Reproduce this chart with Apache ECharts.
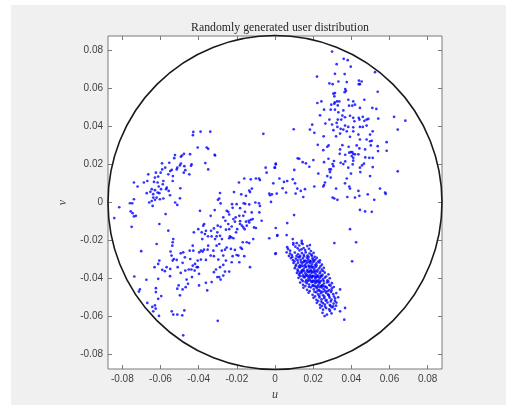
<!DOCTYPE html>
<html>
<head>
<meta charset="utf-8">
<script src="https://cdn.jsdelivr.net/npm/echarts@6/dist/echarts.min.js"></script>
<style>
    html, body { margin: 0; padding: 0; background: #fff; }
    #frame { position: absolute; left: 11px; top: 5px; width: 495px; height: 400px; background: #f0f0f0; }
    #chart { position: absolute; left: 0; top: 0; width: 516px; height: 414px; }
</style>
</head>
<body>
<div id="frame"></div>
<div id="chart"></div>
<script>
// axis limits and circle radius
var axisLimit = 0.0875;
var circleRadius = 0.0875;
var tickValues = [-0.08, -0.06, -0.04, -0.02, 0, 0.02, 0.04, 0.06, 0.08];

// user groups (u, v)
var usersWest = [
    [-0.0428,0.0371],[-0.0390,0.0372],[-0.0339,0.0372],[-0.0430,0.0354],[-0.0405,0.0289],[-0.0358,0.0289],[-0.0350,0.0282],[-0.0316,0.0251],
    [-0.0445,0.0254],[-0.0477,0.0256],[-0.0487,0.0247],[-0.0493,0.0241],[-0.0524,0.0249],[-0.0528,0.0233],[-0.0554,0.0209],[-0.0592,0.0206],
    [-0.0575,0.0183],[-0.0591,0.0174],[-0.0493,0.0205],[-0.0498,0.0195],[-0.0512,0.0183],[-0.0475,0.0191],[-0.0437,0.0200],[-0.0440,0.0193],
    [-0.0470,0.0170],[-0.0478,0.0157],[-0.0515,0.0174],[-0.0541,0.0171],[-0.0549,0.0165],[-0.0559,0.0148],[-0.0535,0.0139],[-0.0449,0.0148],
    [-0.0365,0.0207],[-0.0350,0.0174],[-0.0599,0.0157],[-0.0624,0.0157],[-0.0612,0.0136],[-0.0629,0.0131],[-0.0664,0.0148],[-0.0669,0.0113],
    [-0.0634,0.0108],[-0.0615,0.0105],[-0.0585,0.0113],[-0.0588,0.0096],[-0.0609,0.0084],[-0.0567,0.0078],[-0.0536,0.0113],[-0.0496,0.0075],
    [-0.0687,0.0105],[-0.0739,0.0105],[-0.0720,0.0084],[-0.0646,0.0070],[-0.0629,0.0065],[-0.0653,0.0056],[-0.0672,0.0049],[-0.0638,0.0044],
    [-0.0615,0.0052],[-0.0597,0.0070],[-0.0606,0.0049],[-0.0620,0.0026],[-0.0638,0.0026],[-0.0646,0.0008],[-0.0629,0.0014],[-0.0603,0.0017],
    [-0.0585,0.0021],[-0.0571,0.0070],[-0.0557,0.0061],[-0.0550,0.0038],[-0.0739,0.0017],[-0.0748,-0.0004],[-0.0760,-0.0004],[-0.0659,0.0000],
    [-0.0641,-0.0018],[-0.0523,0.0000],[-0.0512,-0.0013],[-0.0498,0.0022],[-0.0061,0.0361]
];

var usersMiddle = [
    [-0.0842,-0.0082],[-0.0816,-0.0025],[-0.0756,-0.0047],[-0.0746,-0.0056],[-0.0739,-0.0073],[-0.0729,-0.0070],[-0.0751,-0.0128],[-0.0606,-0.0113],
    [-0.0573,-0.0061],[-0.0701,-0.0256],[-0.0737,-0.0389],[-0.0674,-0.0406],[-0.0708,-0.0457],[-0.0713,-0.0468],[-0.0669,-0.0528],[-0.0643,-0.0549],
    [-0.0629,-0.0541],[-0.0625,-0.0558],[-0.0638,-0.0572],[-0.0608,-0.0596],[-0.0624,-0.0450],[-0.0624,-0.0471],[-0.0596,-0.0492],[-0.0612,-0.0506],
    [-0.0541,-0.0572],[-0.0533,-0.0589],[-0.0512,-0.0589],[-0.0486,-0.0593],[-0.0475,-0.0567],[-0.0481,-0.0698],[-0.0300,-0.0622],[-0.0620,-0.0218],
    [-0.0606,-0.0305],[-0.0559,-0.0148],
    [-0.0631,-0.0340],[-0.0612,-0.0323],[-0.0612,-0.0401],[-0.0591,-0.0354],[-0.0577,-0.0361],[-0.0568,-0.0340],[-0.0549,-0.0349],[-0.0550,-0.0387],
    [-0.0536,-0.0209],[-0.0533,-0.0192],[-0.0538,-0.0227],[-0.0547,-0.0258],[-0.0542,-0.0279],[-0.0530,-0.0297],[-0.0536,-0.0305],[-0.0515,-0.0302],
    [-0.0510,-0.0340],[-0.0494,-0.0267],[-0.0481,-0.0262],[-0.0472,-0.0288],[-0.0484,-0.0317],[-0.0494,-0.0370],[-0.0470,-0.0358],[-0.0463,-0.0405],
    [-0.0512,-0.0453],[-0.0505,-0.0436],[-0.0498,-0.0488],[-0.0484,-0.0457],[-0.0468,-0.0445],[-0.0456,-0.0427],[-0.0452,-0.0352],[-0.0444,-0.0297],
    [-0.0431,-0.0332],[-0.0438,-0.0352],[-0.0428,-0.0253],[-0.0421,-0.0358],[-0.0410,-0.0340],[-0.0404,-0.0340],[-0.0398,-0.0375],[-0.0398,-0.0436],
    [-0.0425,-0.0157],[-0.0402,-0.0140],[-0.0393,-0.0044],[-0.0384,-0.0157],[-0.0381,-0.0192],[-0.0376,-0.0122],[-0.0367,-0.0166],[-0.0362,-0.0149],
    [-0.0351,-0.0178],[-0.0388,-0.0253],[-0.0379,-0.0258],[-0.0372,-0.0248],[-0.0353,-0.0248],[-0.0350,-0.0227],[-0.0362,-0.0302],[-0.0388,-0.0300],
    [-0.0397,-0.0262],[-0.0431,-0.0227],[-0.0447,-0.0253],[-0.0419,-0.0323],[-0.0405,-0.0305],[-0.0435,-0.0392],[-0.0362,-0.0422],[-0.0355,-0.0462],
    [-0.0371,-0.0113],
    [-0.0314,0.0247],[-0.0049,0.0183],[0.0004,0.0200],[0.0000,0.0183],[-0.0044,0.0157],[0.0119,0.0232],
    [-0.0161,0.0126],[-0.0189,0.0105],[-0.0127,0.0122],[-0.0100,0.0126],[-0.0084,0.0126],[-0.0079,0.0118],[-0.0009,0.0101],[0.0023,0.0126],
    [0.0047,0.0108],[0.0064,0.0113],[0.0093,0.0122],[0.0105,0.0101],[0.0117,0.0073],[0.0058,0.0052],[0.0040,0.0075],[0.0009,0.0047],
    [-0.0016,0.0043],[-0.0026,0.0038],[-0.0030,0.0047],[-0.0021,0.0003],[-0.0121,0.0073],[-0.0135,0.0063],[-0.0131,0.0055],[-0.0177,0.0043],
    [-0.0152,0.0035],[-0.0215,0.0055],[-0.0288,0.0050],[-0.0292,0.0021],[-0.0299,0.0014],[-0.0285,-0.0005],[-0.0316,-0.0040],[-0.0337,-0.0070],
    [-0.0253,-0.0044],[-0.0245,-0.0049],[-0.0240,-0.0063],[-0.0222,-0.0028],[-0.0225,-0.0009],[-0.0201,-0.0009],[-0.0183,-0.0030],[-0.0164,-0.0004],
    [-0.0156,-0.0007],[-0.0135,-0.0010],[-0.0103,0.0000],[-0.0084,-0.0004],[-0.0079,-0.0018],[-0.0082,-0.0052],[-0.0122,-0.0052],[-0.0157,-0.0049],
    [-0.0166,-0.0070],[-0.0187,-0.0070],[-0.0206,-0.0078],[-0.0218,-0.0087],[-0.0210,-0.0101],[-0.0183,-0.0098],[-0.0152,-0.0101],[-0.0138,-0.0096],
    [-0.0127,-0.0091],[-0.0117,-0.0087],[-0.0135,-0.0105],[-0.0148,-0.0122],[-0.0173,-0.0122],[-0.0198,-0.0140],[-0.0227,-0.0126],[-0.0240,-0.0140],
    [-0.0257,-0.0143],[-0.0245,-0.0113],[-0.0260,-0.0096],[-0.0271,-0.0078],[-0.0285,-0.0128],[-0.0300,-0.0122],[-0.0320,-0.0136],[-0.0335,-0.0149],
    [-0.0332,-0.0178],[-0.0314,-0.0192],[-0.0306,-0.0178],[-0.0302,-0.0157],[-0.0288,-0.0175],[-0.0278,-0.0192],[-0.0292,-0.0218],[-0.0306,-0.0227],
    [-0.0323,-0.0253],[-0.0337,-0.0279],[-0.0320,-0.0282],[-0.0297,-0.0300],[-0.0271,-0.0279],[-0.0279,-0.0253],[-0.0262,-0.0248],[-0.0253,-0.0237],
    [-0.0236,-0.0178],[-0.0229,-0.0183],[-0.0218,-0.0188],[-0.0240,-0.0188],[-0.0204,-0.0157],[-0.0183,-0.0113],[-0.0166,-0.0131],[-0.0159,-0.0140],
    [-0.0110,-0.0131],[-0.0100,-0.0134],[-0.0070,-0.0096],[-0.0114,-0.0192],[-0.0169,-0.0209],[-0.0148,-0.0209],[-0.0135,-0.0213],[-0.0180,-0.0237],
    [-0.0173,-0.0244],[-0.0210,-0.0249],[-0.0231,-0.0244],[-0.0201,-0.0276],[-0.0222,-0.0282],[-0.0192,-0.0279],[-0.0161,-0.0282],[-0.0257,-0.0305],
    [-0.0271,-0.0328],[-0.0288,-0.0340],[-0.0309,-0.0352],[-0.0320,-0.0366],[-0.0292,-0.0392],[-0.0271,-0.0384],[-0.0262,-0.0363],[-0.0240,-0.0363],
    [-0.0227,-0.0314],[-0.0187,-0.0314],[-0.0131,-0.0340],[-0.0030,-0.0188],[0.0012,-0.0175],[0.0002,-0.0270],[-0.0332,-0.0418],[-0.0302,-0.0392],
    [-0.0285,-0.0405]
];

var usersEast = [
    [0.0299,0.0793],[0.0360,0.0755],[0.0381,0.0748],[0.0323,0.0727],[0.0397,0.0714],[0.0524,0.0685],[0.0220,0.0662],[0.0314,0.0676],
    [0.0365,0.0675],[0.0285,0.0626],[0.0302,0.0622],[0.0332,0.0636],[0.0376,0.0633],[0.0440,0.0641],[0.0454,0.0636],[0.0445,0.0622],
    [0.0439,0.0622],[0.0368,0.0596],[0.0372,0.0587],[0.0365,0.0580],[0.0306,0.0572],[0.0314,0.0575],[0.0311,0.0558],[0.0538,0.0582],
    [0.0325,0.0531],[0.0337,0.0531],[0.0384,0.0540],[0.0222,0.0523],[0.0243,0.0531],[0.0295,0.0514],[0.0313,0.0526],[0.0311,0.0519],
    [0.0329,0.0510],[0.0410,0.0531],[0.0419,0.0514],[0.0405,0.0509],[0.0388,0.0509],[0.0468,0.0540],[0.0445,0.0497],[0.0510,0.0497],
    [0.0531,0.0492],[0.0257,0.0488],[0.0292,0.0488],[0.0314,0.0488],[0.0332,0.0474],[0.0358,0.0484],[0.0353,0.0457],[0.0367,0.0448],
    [0.0236,0.0458],[0.0285,0.0436],[0.0329,0.0436],[0.0347,0.0436],[0.0323,0.0418],[0.0264,0.0415],[0.0195,0.0409],[0.0183,0.0383],
    [0.0206,0.0366],[0.0393,0.0456],[0.0410,0.0445],[0.0439,0.0445],[0.0460,0.0450],[0.0442,0.0436],[0.0468,0.0429],[0.0480,0.0436],
    [0.0489,0.0439],[0.0460,0.0397],[0.0445,0.0397],[0.0480,0.0404],[0.0416,0.0427],[0.0410,0.0395],[0.0384,0.0397],[0.0367,0.0404],
    [0.0358,0.0383],[0.0344,0.0387],[0.0341,0.0362],[0.0320,0.0348],[0.0306,0.0380],[0.0299,0.0410],[0.0255,0.0348],[0.0327,0.0397],
    [0.0541,0.0441],[0.0624,0.0450],[0.0683,0.0430],[0.0643,0.0383],[0.0512,0.0374],[0.0498,0.0357],[0.0437,0.0357],[0.0410,0.0374],
    [0.0393,0.0345],[0.0376,0.0374],[0.0098,0.0385],
    [0.0224,0.0303],[0.0274,0.0293],[0.0281,0.0300],[0.0253,0.0275],[0.0353,0.0301],[0.0341,0.0279],[0.0339,0.0256],[0.0386,0.0293],
    [0.0398,0.0265],[0.0389,0.0262],[0.0405,0.0265],[0.0410,0.0256],[0.0419,0.0253],[0.0368,0.0251],[0.0402,0.0244],[0.0410,0.0235],
    [0.0437,0.0253],[0.0442,0.0284],[0.0428,0.0300],[0.0445,0.0331],[0.0472,0.0279],[0.0502,0.0300],[0.0498,0.0322],[0.0538,0.0296],
    [0.0540,0.0270],[0.0585,0.0272],[0.0585,0.0317],[0.0480,0.0331],[0.0507,0.0324],[0.0494,0.0235],[0.0512,0.0235],[0.0473,0.0237],
    [0.0466,0.0204],[0.0456,0.0195],[0.0445,0.0183],[0.0447,0.0160],[0.0512,0.0186],[0.0498,0.0139],[0.0410,0.0220],[0.0407,0.0200],
    [0.0384,0.0183],[0.0398,0.0152],[0.0376,0.0126],[0.0367,0.0101],[0.0389,0.0084],[0.0393,0.0073],[0.0437,0.0061],[0.0442,0.0035],
    [0.0419,0.0026],[0.0379,0.0029],[0.0311,0.0021],[0.0327,0.0014],[0.0302,0.0026],[0.0285,0.0174],[0.0293,0.0174],[0.0288,0.0160],
    [0.0274,0.0139],[0.0262,0.0105],[0.0257,0.0092],[0.0201,0.0223],[0.0257,0.0212],[0.0280,0.0230],[0.0309,0.0218],[0.0302,0.0202],
    [0.0306,0.0191],[0.0358,0.0202],[0.0368,0.0216],[0.0344,0.0209],[0.0127,0.0230],[0.0145,0.0212],[0.0162,0.0206],[0.0180,0.0188],
    [0.0101,0.0171],[0.0227,0.0152],[0.0292,0.0131],[0.0253,0.0084],[0.0206,0.0084],[0.0320,0.0073],[0.0004,0.0204],[-0.0002,0.0183],
    [0.0108,0.0047],[0.0135,0.0061],[0.0157,0.0070],[0.0148,0.0029],[0.0100,-0.0066],[0.0445,-0.0039],[0.0472,-0.0047],[0.0507,-0.0049],
    [0.0520,0.0014],[0.0550,0.0073],[0.0577,0.0052],[0.0580,0.0045],[0.0643,0.0164],[0.0486,0.0043]
];

var usersCluster = [
    [0.0064,-0.0108],[0.0004,-0.0134],[0.0012,-0.0171],[0.0061,-0.0171],[0.0093,-0.0192],[0.0096,-0.0213],[0.0114,-0.0214],[0.0140,-0.0202],
    [0.0140,-0.0213],[0.0004,-0.0267],[0.0061,-0.0262],[0.0064,-0.0235],[0.0079,-0.0253],[0.0393,-0.0140],[0.0311,-0.0213],[0.0425,-0.0209],
    [0.0404,-0.0309],[0.0341,-0.0457],[0.0367,-0.0554],[0.0341,-0.0572],[0.0363,-0.0616],
    [0.0096,-0.0221],[0.0127,-0.0226],[0.0145,-0.0218],[0.0169,-0.0229],[0.0183,-0.0224],
    [0.0119,-0.0241],[0.0128,-0.0252],[0.0139,-0.0246],[0.0150,-0.0239],[0.0158,-0.0250],[0.0178,-0.0243],[0.0188,-0.0255],
    [0.0079,-0.0268],[0.0088,-0.0276],[0.0104,-0.0263],[0.0121,-0.0272],[0.0132,-0.0281],[0.0141,-0.0266],[0.0151,-0.0275],[0.0161,-0.0262],
    [0.0170,-0.0279],[0.0181,-0.0268],[0.0191,-0.0274],[0.0202,-0.0265],
    [0.0083,-0.0292],[0.0094,-0.0303],[0.0109,-0.0295],[0.0123,-0.0288],[0.0134,-0.0301],[0.0146,-0.0294],[0.0156,-0.0306],[0.0167,-0.0290],
    [0.0174,-0.0299],[0.0184,-0.0307],[0.0197,-0.0293],[0.0211,-0.0300],[0.0219,-0.0291],[0.0235,-0.0304],
    [0.0097,-0.0318],[0.0111,-0.0327],[0.0121,-0.0316],[0.0130,-0.0330],[0.0141,-0.0321],[0.0149,-0.0313],[0.0158,-0.0328],[0.0165,-0.0319],
    [0.0176,-0.0332],[0.0182,-0.0317],[0.0193,-0.0325],[0.0200,-0.0314],[0.0211,-0.0329],[0.0217,-0.0320],[0.0233,-0.0315],[0.0246,-0.0327],
    [0.0104,-0.0345],[0.0118,-0.0353],[0.0130,-0.0341],[0.0142,-0.0356],[0.0151,-0.0347],[0.0163,-0.0339],[0.0170,-0.0354],[0.0181,-0.0344],
    [0.0188,-0.0357],[0.0195,-0.0342],[0.0205,-0.0351],[0.0212,-0.0340],[0.0223,-0.0355],[0.0231,-0.0346],[0.0246,-0.0352],[0.0256,-0.0343],
    [0.0115,-0.0370],[0.0126,-0.0380],[0.0141,-0.0368],[0.0147,-0.0383],[0.0158,-0.0372],[0.0165,-0.0379],[0.0176,-0.0366],[0.0182,-0.0381],
    [0.0191,-0.0371],[0.0197,-0.0385],[0.0207,-0.0369],[0.0214,-0.0377],[0.0225,-0.0384],[0.0235,-0.0372],[0.0249,-0.0380],[0.0261,-0.0369],
    [0.0280,-0.0378],
    [0.0123,-0.0396],[0.0139,-0.0405],[0.0155,-0.0394],[0.0165,-0.0408],[0.0176,-0.0398],[0.0182,-0.0406],[0.0193,-0.0395],[0.0200,-0.0410],
    [0.0211,-0.0399],[0.0217,-0.0392],[0.0228,-0.0407],[0.0235,-0.0397],[0.0251,-0.0404],[0.0261,-0.0395],[0.0275,-0.0409],[0.0287,-0.0398],
    [0.0132,-0.0421],[0.0147,-0.0433],[0.0167,-0.0424],[0.0179,-0.0431],[0.0193,-0.0419],[0.0200,-0.0435],[0.0211,-0.0425],[0.0217,-0.0418],
    [0.0228,-0.0432],[0.0235,-0.0422],[0.0246,-0.0436],[0.0256,-0.0426],[0.0272,-0.0420],[0.0284,-0.0433],[0.0298,-0.0424],
    [0.0149,-0.0448],[0.0168,-0.0459],[0.0188,-0.0446],[0.0203,-0.0457],[0.0219,-0.0450],[0.0231,-0.0461],[0.0246,-0.0447],[0.0256,-0.0456],
    [0.0272,-0.0449],[0.0284,-0.0460],[0.0298,-0.0451],[0.0308,-0.0444],
    [0.0176,-0.0474],[0.0197,-0.0485],[0.0216,-0.0472],[0.0226,-0.0483],[0.0240,-0.0477],[0.0252,-0.0488],[0.0268,-0.0475],[0.0278,-0.0484],
    [0.0293,-0.0471],[0.0305,-0.0482],[0.0321,-0.0476],
    [0.0202,-0.0501],[0.0217,-0.0511],[0.0233,-0.0499],[0.0244,-0.0509],[0.0258,-0.0503],[0.0270,-0.0513],[0.0286,-0.0500],[0.0296,-0.0510],
    [0.0315,-0.0504],[0.0331,-0.0498],
    [0.0219,-0.0527],[0.0235,-0.0538],[0.0251,-0.0529],[0.0261,-0.0536],[0.0275,-0.0526],[0.0287,-0.0539],[0.0307,-0.0531],[0.0322,-0.0526],
    [0.0237,-0.0553],[0.0252,-0.0563],[0.0268,-0.0555],[0.0284,-0.0562],[0.0298,-0.0551],[0.0313,-0.0560],
    [0.0249,-0.0580],[0.0272,-0.0589],[0.0296,-0.0583],
    [0.0153,-0.0309],[0.0172,-0.0311],[0.0189,-0.0336],[0.0168,-0.0362],[0.0186,-0.0359],[0.0203,-0.0362],[0.0176,-0.0389],[0.0192,-0.0388],
    [0.0209,-0.0389],[0.0222,-0.0364],[0.0187,-0.0412],[0.0205,-0.0414],[0.0222,-0.0415],[0.0240,-0.0413],[0.0206,-0.0440],[0.0223,-0.0441],
    [0.0241,-0.0439],[0.0260,-0.0442],[0.0238,-0.0467],[0.0262,-0.0466],[0.0160,-0.0386],[0.0144,-0.0358],[0.0137,-0.0335],[0.0198,-0.0301],
    [0.0228,-0.0390],[0.0244,-0.0388],
    [0.0091,-0.0286],[0.0113,-0.0281],[0.0129,-0.0287],[0.0152,-0.0283],[0.0176,-0.0286],[0.0193,-0.0280],[0.0208,-0.0285],
    [0.0102,-0.0309],[0.0118,-0.0304],[0.0137,-0.0312],[0.0161,-0.0306],[0.0187,-0.0311],[0.0205,-0.0307],[0.0226,-0.0310],
    [0.0108,-0.0334],[0.0125,-0.0338],[0.0146,-0.0333],[0.0159,-0.0337],[0.0179,-0.0335],[0.0199,-0.0338],[0.0218,-0.0332],[0.0238,-0.0336],
    [0.0121,-0.0361],[0.0135,-0.0364],[0.0153,-0.0360],[0.0178,-0.0363],[0.0195,-0.0365],[0.0213,-0.0361],[0.0238,-0.0363],[0.0252,-0.0360],
    [0.0133,-0.0387],[0.0150,-0.0391],[0.0169,-0.0386],[0.0185,-0.0392],[0.0201,-0.0387],[0.0219,-0.0390],[0.0241,-0.0386],[0.0268,-0.0389],
    [0.0146,-0.0413],[0.0160,-0.0417],[0.0173,-0.0412],[0.0196,-0.0416],[0.0214,-0.0411],[0.0231,-0.0417],[0.0255,-0.0413],[0.0280,-0.0416],
    [0.0159,-0.0439],[0.0178,-0.0443],[0.0197,-0.0437],[0.0214,-0.0442],[0.0234,-0.0445],[0.0251,-0.0438],[0.0267,-0.0443],[0.0291,-0.0437],
    [0.0182,-0.0465],[0.0207,-0.0469],[0.0224,-0.0463],[0.0249,-0.0470],[0.0275,-0.0466],[0.0296,-0.0463],
    [0.0210,-0.0493],[0.0232,-0.0490],[0.0259,-0.0495],[0.0283,-0.0491],[0.0309,-0.0494],
    [0.0226,-0.0518],[0.0243,-0.0521],[0.0266,-0.0516],[0.0292,-0.0520],[0.0314,-0.0517],
    [0.0245,-0.0544],[0.0262,-0.0547],[0.0291,-0.0543],[0.0305,-0.0546],
    [0.0068,-0.0245],[0.0107,-0.0232],[0.0073,-0.0281],[0.0130,-0.0372],[0.0280,-0.0485],[0.0320,-0.0542],[0.0260,-0.0597],[0.0288,-0.0570]
];

var allUsers = usersWest.concat(usersMiddle, usersEast, usersCluster);

var chart = echarts.init(document.getElementById('chart'), null, { renderer: 'canvas' });

var axisColor = '#7a7a7a';
var labelStyle = { color: '#404040', fontSize: 10, fontFamily: 'Liberation Sans, Arial, sans-serif' };
var nameStyle = { color: '#404040', fontSize: 12, fontStyle: 'italic', fontFamily: 'Liberation Serif, serif' };

function baseAxis(extra) {
    var ax = {
        type: 'value',
        min: -axisLimit,
        max: axisLimit,
        splitLine: { show: false },
        axisLine: { show: false, onZero: false },
        axisTick: { show: true, inside: true, length: 4, customValues: tickValues, lineStyle: { color: axisColor } },
        axisLabel: { show: true, customValues: tickValues, margin: 5, ...labelStyle },
    };
    return Object.assign(ax, extra);
}

var option = {
    backgroundColor: 'transparent',
    animation: false,
    title: {
        text: 'Randomly generated user distribution',
        left: 275,
        top: 17,
        textAlign: 'center',
        textStyle: { color: '#262626', fontSize: 11.8, fontWeight: 'normal', fontFamily: 'Liberation Serif, serif' }
    },
    grid: {
        left: 108, top: 36, width: 334, height: 333,
        show: true, backgroundColor: '#fff', borderColor: axisColor, borderWidth: 1
    },
    xAxis: [
        baseAxis({ position: 'bottom', name: 'u', nameLocation: 'middle', nameGap: 18, nameTextStyle: nameStyle }),
        baseAxis({ position: 'top', axisLabel: { show: false } })
    ],
    yAxis: [
        baseAxis({ position: 'left', name: 'v', nameLocation: 'middle', nameGap: 26, nameTextStyle: nameStyle }),
        baseAxis({ position: 'right', axisLabel: { show: false } })
    ],
    series: [
        {
            type: 'scatter',
            data: allUsers,
            symbol: 'circle',
            symbolSize: 2.7,
            itemStyle: { color: '#0000ff' },
            silent: true
        },
        {
            type: 'custom',
            data: [[0, 0]],
            silent: true,
            renderItem: function (params, api) {
                var c = api.coord([0, 0]);
                var e = api.coord([circleRadius, 0]);
                return {
                    type: 'circle',
                    shape: { cx: c[0], cy: c[1], r: e[0] - c[0] },
                    style: { fill: null, stroke: '#1a1a1a', lineWidth: 1.6 }
                };
            }
        }
    ]
};

chart.setOption(option);
window.onresize = function () { chart.resize(); };
</script>
</body>
</html>
